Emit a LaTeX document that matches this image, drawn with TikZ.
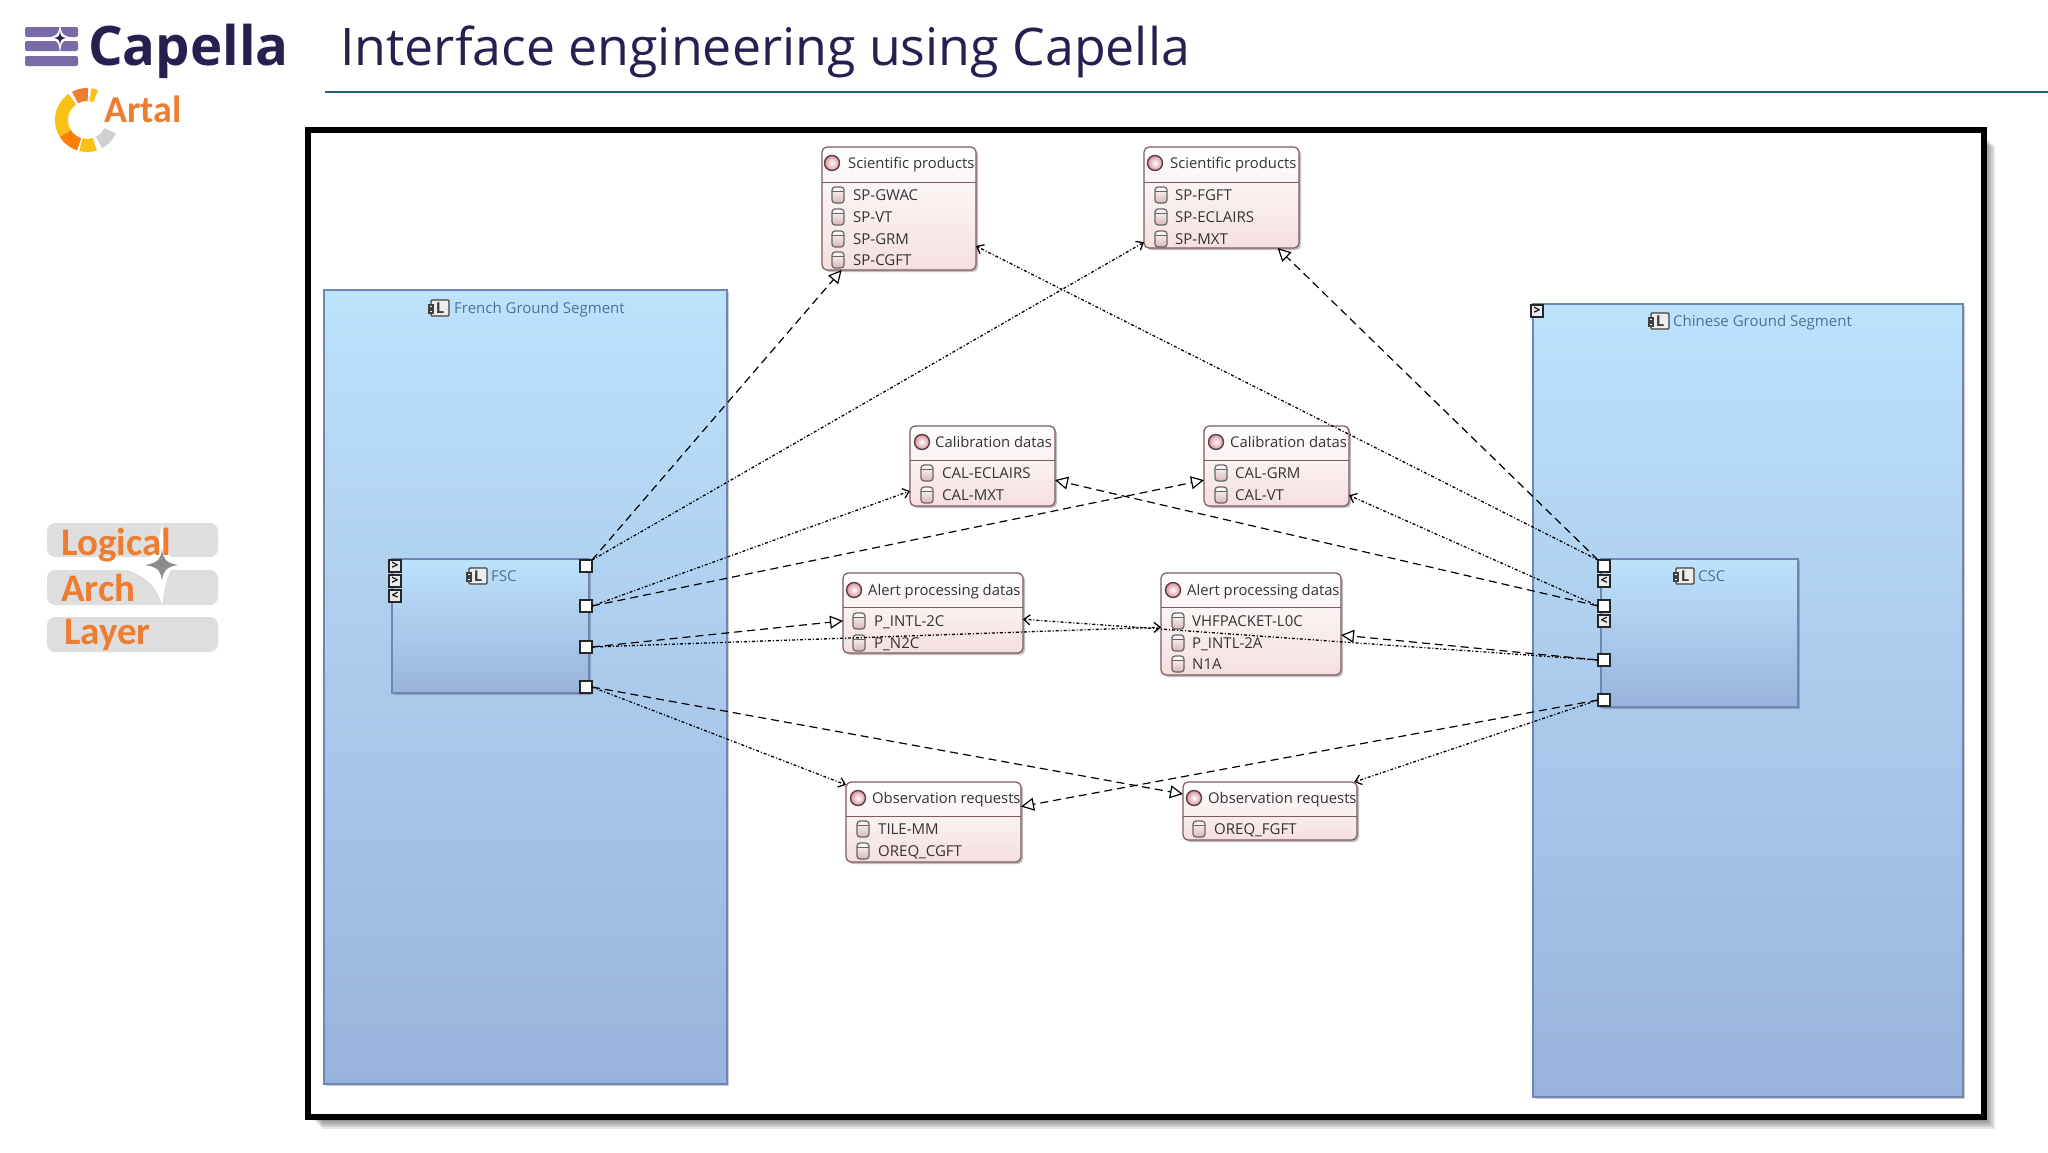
\documentclass[tikz,border=0pt]{standalone}
\usepackage{fontspec}
\setmainfont{Open Sans}
\newfontfamily\logofont{Carlito}
\usetikzlibrary{shadows,arrows.meta}

\definecolor{navy}{HTML}{262050}
\definecolor{barpurple}{HTML}{7A6AA8}
\definecolor{artalorange}{HTML}{ED7D31}
\definecolor{artalyellow}{HTML}{FBC015}
\definecolor{titleline}{HTML}{1F5F7F}
\definecolor{labelblue}{HTML}{4F7196}
\definecolor{boxedge}{HTML}{7D5A62}
\definecolor{blueTop}{HTML}{BDE2FC}
\definecolor{blueBottom}{HTML}{98B3DC}
\definecolor{blueEdge}{HTML}{6F86B4}
\definecolor{pinkBottom}{HTML}{F5DFDF}
\definecolor{pinkIcon}{HTML}{D9B5B5}
\definecolor{pinkBall}{HTML}{D9939E}

\tikzset{
    x=1pt, y=-1pt,
    groupbox/.style={draw=blueEdge, line width=1.2pt, top color=blueTop, bottom color=blueBottom, outer sep=0pt, inner sep=0pt, drop shadow={shadow xshift=2pt, shadow yshift=-2pt, opacity=0.2, fill=black}},
    classbox/.style={draw=boxedge, line width=1.2pt, rounded corners=5pt, top color=white, bottom color=pinkBottom, outer sep=0pt, inner sep=0pt, drop shadow={shadow xshift=2pt, shadow yshift=-2pt, opacity=0.25, fill=black}},
    classline/.style={draw=boxedge, line width=0.9pt},
    titletext/.style={anchor=west, inner sep=0pt, text height=11.4pt, text depth=0pt, font=\fontsize{14.8}{15}\selectfont, text=black!80},
    itemtext/.style={anchor=west, inner sep=0pt, text height=10.7pt, text depth=0pt, font=\fontsize{15}{15}\selectfont, text=black!80},
    grouptext/.style={anchor=west, inner sep=0pt, text height=11pt, text depth=0pt, font=\fontsize{15}{15}\selectfont, text=labelblue},
    whiteport/.style={draw=black!85, fill=white, line width=1.3pt, minimum size=12pt, inner sep=0pt, outer sep=0pt},
    smallport/.style={draw=black!85, fill=black!8, line width=1.3pt, minimum size=12pt, inner sep=0pt, outer sep=0pt, font=\fontsize{12}{12}\selectfont\bfseries},
    ballicon/.style={circle, draw=boxedge!70!black, line width=1.4pt, minimum size=15pt, inner sep=0pt, inner color=white, outer color=pinkBall},
    layertext/.style={anchor=west, inner sep=0pt, text=artalorange, font=\logofont\fontsize{39}{39}\selectfont\bfseries},
    layerbar/.style={fill=black!13, rounded corners=8pt},
    flowline/.style={draw=black, line width=1.3pt, dash pattern=on 3pt off 2pt on 1pt off 2pt, -{Straight Barb[length=6pt,width=10pt]}},
    realline/.style={draw=black, line width=1.2pt, dash pattern=on 8pt off 5pt, -{Triangle[open,fill=white,length=13pt,width=13pt]}},
    pics/dbicon/.style={code={
        \draw[draw=black!60, line width=1.2pt, top color=white, bottom color=pinkIcon, rounded corners=3pt] (-6,-8) rectangle (6,8);
        \draw[draw=black!60, line width=0.9pt] (-6,-4) -- (6,-4);
    }},
    pics/compicon/.style={code={
        \draw[draw=black!75, fill=black!7, line width=1.3pt, rounded corners=1pt] (-8,-8) rectangle (10,8);
        \draw[draw=black!75, fill=white, line width=1.1pt] (-10,-3) rectangle (-6,0);
        \draw[draw=black!75, fill=white, line width=1.1pt] (-10,2) rectangle (-6,5);
        \node[inner sep=0pt, text=black!75, font=\fontsize{15}{15}\selectfont\bfseries] at (1,0) {L};
    }},
}

% one segment of the ring logo
\newcommand{\ringseg}[3]{\fill[#3] ([shift={(#1:32pt)}]87,120) arc[start angle=#1,end angle=#2,radius=32pt] -- ([shift={(#2:19pt)}]87,120) arc[start angle=#2,end angle=#1,radius=19pt] -- cycle;}

\begin{document}
\begin{tikzpicture}
    \useasboundingbox (0,0) rectangle (2048,1152);
    \fill[white] (0,0) rectangle (2048,1152);

    % logos and title
    \fill[barpurple, rounded corners=2pt] (25,27) rectangle (78,37);
    \fill[barpurple, rounded corners=2pt] (25,41) rectangle (78,51);
    \fill[barpurple, rounded corners=2pt] (25,56) rectangle (78,66);
    \fill[white] (60,22) .. controls (61,34) and (62,36) .. (74,38) .. controls (62,40) and (61,42) .. (60,54) .. controls (59,42) and (58,40) .. (46,38) .. controls (58,36) and (59,34) .. (60,22) -- cycle;
    \fill[navy] (60,31) .. controls (60.5,36) and (61,37) .. (66,38) .. controls (61,39) and (60.5,40) .. (60,45) .. controls (59.5,40) and (59,39) .. (54,38) .. controls (59,37) and (59.5,36) .. (60,31) -- cycle;
    \node[anchor=base west, inner sep=0pt, text=navy, font=\fontsize{54.5}{55}\selectfont\bfseries] (capellalogo) at (88,65) {Capella};
    \node[anchor=base west, inner sep=0pt, text=navy, font=\fontsize{51.85}{52}\selectfont] (maintitle) at (340,65) {Interface engineering using Capella};
    \draw[draw=titleline, line width=1.5pt] (325,92) -- (2048,92);

    \ringseg{125}{212}{artalyellow}
    \ringseg{212}{252}{orange!85!artalorange}
    \ringseg{256}{288}{artalyellow}
    \ringseg{298}{335}{black!18}
    \ringseg{88}{118}{artalorange}
    \ringseg{70}{82}{artalyellow}
    \node[anchor=base west, inner sep=0pt, text=artalorange, font=\logofont\fontsize{38}{38}\selectfont\bfseries] (artallogo) at (104,122) {Artal};

    % layer badge
    \fill[layerbar] (47,523) rectangle (218,557);
    \fill[layerbar] (47,570) rectangle (218,605);
    \fill[layerbar] (47,617) rectangle (218,652);
    \fill[white] (162,524) .. controls (165,550) and (170,558) .. (176,563) .. controls (168,570) and (165,585) .. (162,605) .. controls (158,590) and (150,578) .. (128,570) .. controls (150,565) and (158,550) .. (162,524) -- cycle;
    \fill[black!45] (162,549) .. controls (163,558) and (165,563) .. (178,565) .. controls (165,567) and (163,572) .. (162,581) .. controls (161,572) and (159,567) .. (145,565) .. controls (159,563) and (161,558) .. (162,549) -- cycle;
    \node[layertext] (logical) at (61,545) {Logical};
    \node[layertext] (arch) at (61,588) {Arch};
    \node[layertext] (layer) at (64,635) {Layer};

    % outer frame with its soft shadow
    \foreach \d in {0,2,4,6,8,10} {
        \fill[black, opacity=0.1] (312+\d,136+\d) rectangle (1985+\d,1119+\d);
    }
    \draw[draw=black, fill=white, line width=6.5pt] (308,130) rectangle (1984,1117);

    % ground segments
    \node[groupbox, minimum width=403pt, minimum height=794pt] (french) at (525.5,687) {};
    \pic at (439,308) {compicon};
    \node[grouptext] (frenchlabel) at (454,308) {French Ground Segment};

    \node[groupbox, minimum width=430pt, minimum height=793pt] (chinese) at (1748,700.5) {};
    \pic at (1659,321) {compicon};
    \node[grouptext] (chineselabel) at (1673,321) {Chinese Ground Segment};
    \node[smallport] (chineseIn) at (1537,311) {>};

    % FSC
    \node[groupbox, minimum width=197pt, minimum height=134pt] (fsc) at (490.5,626) {};
    \pic at (477,576) {compicon};
    \node[grouptext] (fsclabel) at (491,576) {FSC};
    \node[smallport] (fscIn1) at (395,566) {>};
    \node[smallport] (fscIn2) at (395,581) {>};
    \node[smallport] (fscIn3) at (395,596) {<};
    \node[whiteport] (fscP1) at (586,566) {};
    \node[whiteport] (fscP2) at (586,606) {};
    \node[whiteport] (fscP3) at (586,647) {};
    \node[whiteport] (fscP4) at (586,687) {};

    % CSC
    \node[groupbox, minimum width=197pt, minimum height=148pt] (csc) at (1699.5,633) {};
    \pic at (1684,576) {compicon};
    \node[grouptext] (csclabel) at (1698,576) {CSC};
    \node[smallport] (cscIn1) at (1604,581) {<};
    \node[smallport] (cscIn2) at (1604,621) {<};
    \node[whiteport] (cscP1) at (1604,566) {};
    \node[whiteport] (cscP2) at (1604,606) {};
    \node[whiteport] (cscP3) at (1604,660) {};
    \node[whiteport] (cscP4) at (1604,700) {};

    % scientific products
    \node[classbox, minimum width=154pt, minimum height=123pt] (sciA) at (899,208.5) {};
    \draw[classline] (822,182) -- (976,182);
    \node[ballicon] (sciAball) at (832,163) {};
    \node[titletext] (sciAtitle) at (848,163) {Scientific products};
    \foreach \y/\t [count=\i] in {195/SP-GWAC, 217/SP-VT, 239/SP-GRM, 260/SP-CGFT} {
        \pic at (838,\y) {dbicon};
        \node[itemtext] (sciAitem\i) at (853,\y) {\t};
    }

    \node[classbox, minimum width=155pt, minimum height=101pt] (sciB) at (1221.5,197.5) {};
    \draw[classline] (1144,182) -- (1299,182);
    \node[ballicon] (sciBball) at (1155,163) {};
    \node[titletext] (sciBtitle) at (1170,163) {Scientific products};
    \foreach \y/\t [count=\i] in {195/SP-FGFT, 217/SP-ECLAIRS, 239/SP-MXT} {
        \pic at (1161,\y) {dbicon};
        \node[itemtext] (sciBitem\i) at (1175,\y) {\t};
    }

    % calibration datas
    \node[classbox, minimum width=145pt, minimum height=80pt] (calA) at (982.5,466) {};
    \draw[classline] (910,460) -- (1055,460);
    \node[ballicon] (calAball) at (922,442) {};
    \node[titletext] (calAtitle) at (935,442) {Calibration datas};
    \foreach \y/\t [count=\i] in {473/CAL-ECLAIRS, 495/CAL-MXT} {
        \pic at (927,\y) {dbicon};
        \node[itemtext] (calAitem\i) at (942,\y) {\t};
    }

    \node[classbox, minimum width=145pt, minimum height=80pt] (calB) at (1276.5,466) {};
    \draw[classline] (1204,460) -- (1349,460);
    \node[ballicon] (calBball) at (1216,442) {};
    \node[titletext] (calBtitle) at (1230,442) {Calibration datas};
    \foreach \y/\t [count=\i] in {473/CAL-GRM, 495/CAL-VT} {
        \pic at (1221,\y) {dbicon};
        \node[itemtext] (calBitem\i) at (1235,\y) {\t};
    }

    % alert processing datas
    \node[classbox, minimum width=180pt, minimum height=80pt] (alertA) at (933,613) {};
    \draw[classline] (843,607) -- (1023,607);
    \node[ballicon] (alertAball) at (854,590) {};
    \node[titletext] (alertAtitle) at (868,590) {Alert processing datas};
    \foreach \y/\t [count=\i] in {621/P\_INTL-2C, 643/P\_N2C} {
        \pic at (859,\y) {dbicon};
        \node[itemtext] (alertAitem\i) at (874,\y) {\t};
    }

    \node[classbox, minimum width=180pt, minimum height=102pt] (alertB) at (1251,624) {};
    \draw[classline] (1161,607) -- (1341,607);
    \node[ballicon] (alertBball) at (1173,590) {};
    \node[titletext] (alertBtitle) at (1187,590) {Alert processing datas};
    \foreach \y/\t [count=\i] in {621/VHFPACKET-L0C, 643/P\_INTL-2A, 664/N1A} {
        \pic at (1178,\y) {dbicon};
        \node[itemtext] (alertBitem\i) at (1192,\y) {\t};
    }

    % observation requests
    \node[classbox, minimum width=175pt, minimum height=80pt] (obsA) at (933.5,822) {};
    \draw[classline] (846,816) -- (1021,816);
    \node[ballicon] (obsAball) at (858,798) {};
    \node[titletext] (obsAtitle) at (872,798) {Observation requests};
    \foreach \y/\t [count=\i] in {829/TILE-MM, 851/OREQ\_CGFT} {
        \pic at (863,\y) {dbicon};
        \node[itemtext] (obsAitem\i) at (878,\y) {\t};
    }

    \node[classbox, minimum width=174pt, minimum height=58pt] (obsB) at (1270,811) {};
    \draw[classline] (1183,816) -- (1357,816);
    \node[ballicon] (obsBball) at (1194,798) {};
    \node[titletext] (obsBtitle) at (1208,798) {Observation requests};
    \foreach \y/\t [count=\i] in {829/OREQ\_FGFT} {
        \pic at (1199,\y) {dbicon};
        \node[itemtext] (obsBitem\i) at (1214,\y) {\t};
    }

    % connectors
    \draw[realline] (fscP1.north east) -- (sciA.227.6);
    \draw[flowline] (fscP1.north east) -- (sciB.210.4);
    \draw[flowline] (cscP1.north west) -- (sciA.-26.6);
    \draw[realline] (cscP1.north west) -- (sciB.-42.6);

    \draw[flowline] (fscP2.east) -- (calA.199.7);
    \draw[realline] (fscP2.east) -- (calB.191.7);
    \draw[realline] (cscP2.west) -- (calA.-11.7);
    \draw[flowline] (cscP2.west) -- (calB.-22.5);

    \draw[realline] (fscP3.east) -- (alertA.185.7);
    \draw[flowline] (fscP3.east) -- (alertB.182.5);
    \draw[flowline] (cscP3.west) -- (alertA.-4.4);
    \draw[realline] (cscP3.west) -- (alertB.-7);

    \draw[flowline] (fscP4.east) -- (obsA.157.6);
    \draw[realline] (fscP4.east) -- (obsB.169);
    \draw[realline] (cscP4.west) -- (obsA.10.4);
    \draw[flowline] (cscP4.west) -- (obsB.19);
\end{tikzpicture}
\end{document}
